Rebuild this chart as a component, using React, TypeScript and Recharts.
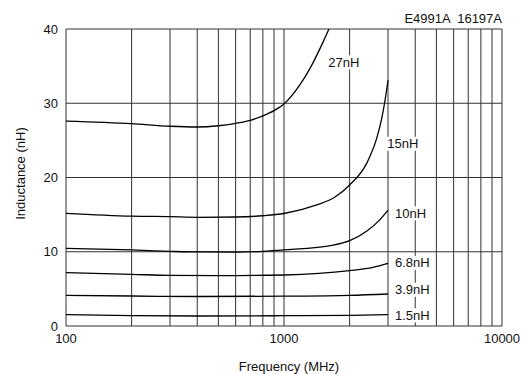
import React from 'react';
import { LineChart, Line, XAxis, YAxis, ReferenceLine, ReferenceDot, Label } from 'recharts';

const xTicks = [100, 1000, 10000];
const yTicks = [0, 10, 20, 30, 40];
const xGrid = [100, 200, 300, 400, 500, 600, 700, 800, 900, 1000, 2000, 3000, 4000, 5000, 6000, 7000, 8000, 9000, 10000];
const yGrid = [0, 10, 20, 30, 40];

const l27 = [
  { f: 100, v: 27.6 }, { f: 200, v: 27.25 }, { f: 300, v: 26.9 }, { f: 400, v: 26.8 },
  { f: 500, v: 26.97 }, { f: 600, v: 27.3 }, { f: 700, v: 27.7 }, { f: 800, v: 28.3 },
  { f: 900, v: 29.0 }, { f: 1000, v: 29.9 }, { f: 1184, v: 32.5 }, { f: 1316, v: 34.7 },
  { f: 1514, v: 38.3 }, { f: 1608, v: 40 },
];
const l15 = [
  { f: 100, v: 15.18 }, { f: 200, v: 14.8 }, { f: 300, v: 14.72 }, { f: 400, v: 14.64 },
  { f: 600, v: 14.68 }, { f: 800, v: 14.85 }, { f: 1000, v: 15.15 }, { f: 1413, v: 16.3 },
  { f: 1700, v: 17.3 }, { f: 2000, v: 19.0 }, { f: 2394, v: 21.9 }, { f: 2663, v: 25.3 },
  { f: 2800, v: 27.8 }, { f: 2900, v: 30.2 }, { f: 3000, v: 33.1 },
];
const l10 = [
  { f: 100, v: 10.46 }, { f: 200, v: 10.24 }, { f: 300, v: 10.06 }, { f: 400, v: 9.97 },
  { f: 600, v: 9.95 }, { f: 800, v: 10.05 }, { f: 1000, v: 10.24 }, { f: 1680, v: 10.9 },
  { f: 2000, v: 11.5 }, { f: 2400, v: 12.8 }, { f: 2750, v: 14.3 }, { f: 3000, v: 15.6 },
];
const l68 = [
  { f: 100, v: 7.18 }, { f: 200, v: 6.96 }, { f: 300, v: 6.82 }, { f: 500, v: 6.78 },
  { f: 1000, v: 6.87 }, { f: 2000, v: 7.45 }, { f: 2560, v: 7.9 }, { f: 3000, v: 8.44 },
];
const l39 = [
  { f: 100, v: 4.13 }, { f: 200, v: 4.04 }, { f: 400, v: 3.97 }, { f: 1000, v: 4.02 },
  { f: 2000, v: 4.13 }, { f: 3000, v: 4.31 },
];
const l15n = [
  { f: 100, v: 1.52 }, { f: 200, v: 1.39 }, { f: 400, v: 1.35 }, { f: 1000, v: 1.39 },
  { f: 2000, v: 1.44 }, { f: 3000, v: 1.52 },
];

const seriesList = [l27, l15, l10, l68, l39, l15n];

const curveLabels = [
  { text: '27nH', f: 1597, v: 35.5 },
  { text: '15nH', f: 2978, v: 24.54 },
  { text: '10nH', f: 3230, v: 15.18 },
  { text: '6.8nH', f: 3230, v: 8.5 },
  { text: '3.9nH', f: 3230, v: 4.88 },
  { text: '1.5nH', f: 3230, v: 1.44 },
];

const FONT = '"Liberation Sans", Arial, Helvetica, sans-serif';

const makeLabelShape = (text: string) => (p: any) => {
  const w = text.length * 7.1;
  return (
    <g>
      <rect x={p.cx - 1} y={p.cy - 7} width={w + 2} height={14} fill="#fff" />
      <text x={p.cx} y={p.cy} dy="0.35em" fontSize={13} fontFamily={FONT} fill="#111" textAnchor="start">
        {text}
      </text>
    </g>
  );
};

const XTitle = (props: any) => {
  const vb = props.viewBox || { x: 66, y: 326, width: 436, height: 30 };
  return (
    <text x={vb.x + vb.width / 2 + 5} y={vb.y + 40.7} dy="0.35em" textAnchor="middle" fontSize={13} fontFamily={FONT} fill="#111">
      Frequency (MHz)
    </text>
  );
};

const YTitle = (props: any) => {
  const vb = props.viewBox || { x: 6, y: 29, width: 60, height: 297 };
  const cx = vb.x + 14;
  const cy = vb.y + vb.height / 2 - 4;
  return (
    <text x={cx} y={cy} dy="0.35em" textAnchor="middle" fontSize={13} fontFamily={FONT} fill="#111" transform={`rotate(-90, ${cx}, ${cy})`}>
      Inductance (nH)
    </text>
  );
};

export default function App() {
  return (
    <div style={{ position: 'absolute', left: 0, top: 0, width: 527, height: 374, background: '#fff' }}>
      <LineChart width={527} height={374} margin={{ top: 29, right: 25, left: 6, bottom: 18 }}>
        <XAxis
          type="number"
          dataKey="f"
          scale="log"
          domain={[100, 10000]}
          ticks={xTicks}
          allowDataOverflow
          axisLine={false}
          tickLine={false}
          tickSize={6}
          tickMargin={2}
          height={30}
          tick={{ fontSize: 13, fontFamily: FONT, fill: '#111' }}
        >
          <Label content={XTitle} />
        </XAxis>
        <YAxis
          type="number"
          domain={[0, 40]}
          ticks={yTicks}
          axisLine={false}
          tickLine={false}
          tickSize={6}
          tickMargin={2}
          width={60}
          tick={{ fontSize: 13, fontFamily: FONT, fill: '#111' }}
        >
          <Label content={YTitle} />
        </YAxis>
        {xGrid.map((f) => (
          <ReferenceLine key={'vx' + f} x={f} stroke="#333" strokeWidth={1} ifOverflow="visible" />
        ))}
        {yGrid.map((v) => (
          <ReferenceLine key={'hy' + v} y={v} stroke="#333" strokeWidth={1} ifOverflow="visible" />
        ))}
        {seriesList.map((d, i) => (
          <Line
            key={'s' + i}
            data={d}
            dataKey="v"
            type="monotone"
            stroke="#000"
            strokeWidth={1.3}
            dot={false}
            activeDot={false}
            isAnimationActive={false}
          />
        ))}
        {curveLabels.map((l) => (
          <ReferenceDot key={l.text} x={l.f} y={l.v} r={0} ifOverflow="visible" shape={makeLabelShape(l.text)} />
        ))}
      </LineChart>
      <div
        style={{
          position: 'absolute',
          top: 11,
          right: 25,
          fontSize: 13,
          lineHeight: '15px',
          fontFamily: FONT,
          color: '#111',
          whiteSpace: 'pre',
        }}
      >
        {'E4991A  16197A'}
      </div>
    </div>
  );
}
